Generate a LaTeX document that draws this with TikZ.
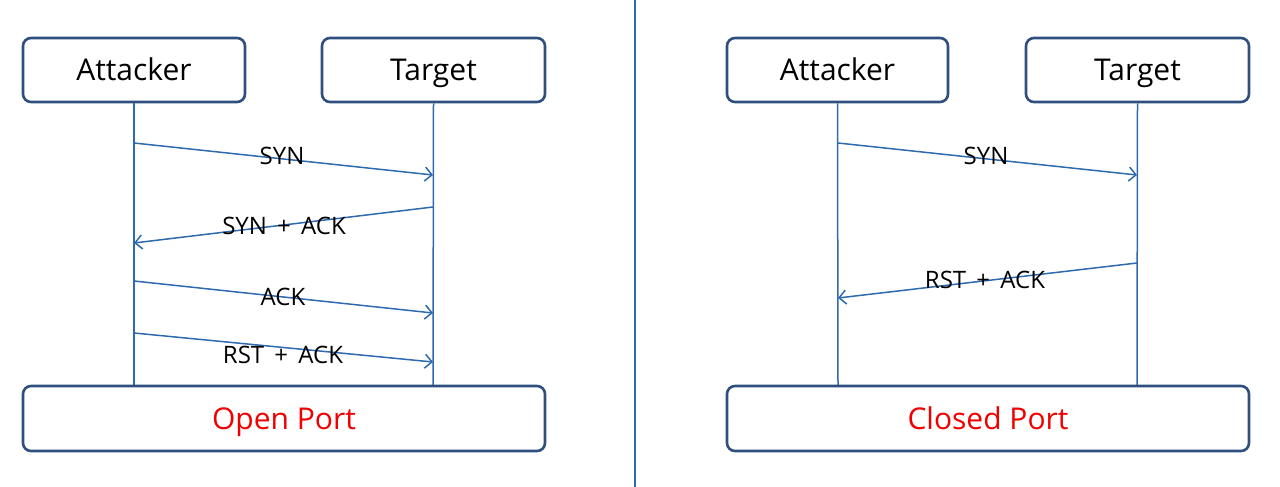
\documentclass[tikz,border=0pt]{standalone}
\usepackage{fontspec}
\setmainfont{Open Sans}
\usetikzlibrary{arrows.meta}
\definecolor{boxblue}{HTML}{2F4F7F}
\definecolor{lineblue}{HTML}{2E6AAE}
\definecolor{portred}{HTML}{F00000}
\begin{document}
\begin{tikzpicture}[x=1pt,y=-1pt,
  actor/.style={draw=boxblue,line width=2.6pt,rounded corners=8pt,fill=white,inner sep=0pt,
    font=\fontsize{30}{32}\selectfont,text height=21.4pt,text depth=0pt},
  result/.style={actor,text=portred},
  life/.style={draw=lineblue,line width=1.5pt},
  msg/.style={draw=lineblue,line width=1.5pt,-{Straight Barb[length=7pt,width=14pt,line width=1.5pt]}},
  lbl/.style={font=\fontsize{24}{26}\selectfont,inner sep=0pt,text height=17.1pt,text depth=0pt}]
\useasboundingbox (0,0) rectangle (1280,487);
\draw[draw=lineblue,line width=1.5pt] (635,0) -- (635,487);
% left panel
\node[actor,minimum width=222pt,minimum height=64pt] (a1) at (134,70) {Attacker};
\node[actor,minimum width=223pt,minimum height=64pt] (t1) at (433.5,70) {Target};
\coordinate (a1e) at (134,386);
\coordinate (t1e) at (433,386);
\draw[life] (a1.south) -- (a1e);
\draw[life] (t1.south) -- (t1e);
\coordinate (m1s) at (134,143); \coordinate (m1e) at (433,175);
\coordinate (m2s) at (433,207); \coordinate (m2e) at (134,243);
\coordinate (m3s) at (134,281); \coordinate (m3e) at (433,313);
\coordinate (m4s) at (134,333); \coordinate (m4e) at (433,362);
\draw[msg] (m1s) -- (m1e);
\draw[msg] (m2s) -- (m2e);
\draw[msg] (m3s) -- (m3e);
\draw[msg] (m4s) -- (m4e);
\node[lbl] (l1) at (282,156) {SYN};
\node[lbl] (l2) at (284,226) {SYN\ \,+\ \,ACK};
\node[lbl] (l3) at (283,297) {ACK};
\node[lbl] (l4) at (283,355) {RST\ \,+\ \,ACK};
\node[result,minimum width=522pt,minimum height=65pt] (r1) at (284,418.5) {Open Port};
% right panel
\node[actor,minimum width=221pt,minimum height=64pt] (a2) at (837.5,70) {Attacker};
\node[actor,minimum width=223pt,minimum height=64pt] (t2) at (1137.5,70) {Target};
\coordinate (a2e) at (838,386);
\coordinate (t2e) at (1137,386);
\draw[life] (a2.south) -- (a2e);
\draw[life] (t2.south) -- (t2e);
\coordinate (n1s) at (838,143); \coordinate (n1e) at (1137,175);
\coordinate (n2s) at (1137,263); \coordinate (n2e) at (838,298);
\draw[msg] (n1s) -- (n1e);
\draw[msg] (n2s) -- (n2e);
\node[lbl] (k1) at (986,156) {SYN};
\node[lbl] (k2) at (985,280) {RST\ \,+\ \,ACK};
\node[result,minimum width=522pt,minimum height=65pt] (r2) at (988,418.5) {Closed Port};
\end{tikzpicture}
\end{document}
